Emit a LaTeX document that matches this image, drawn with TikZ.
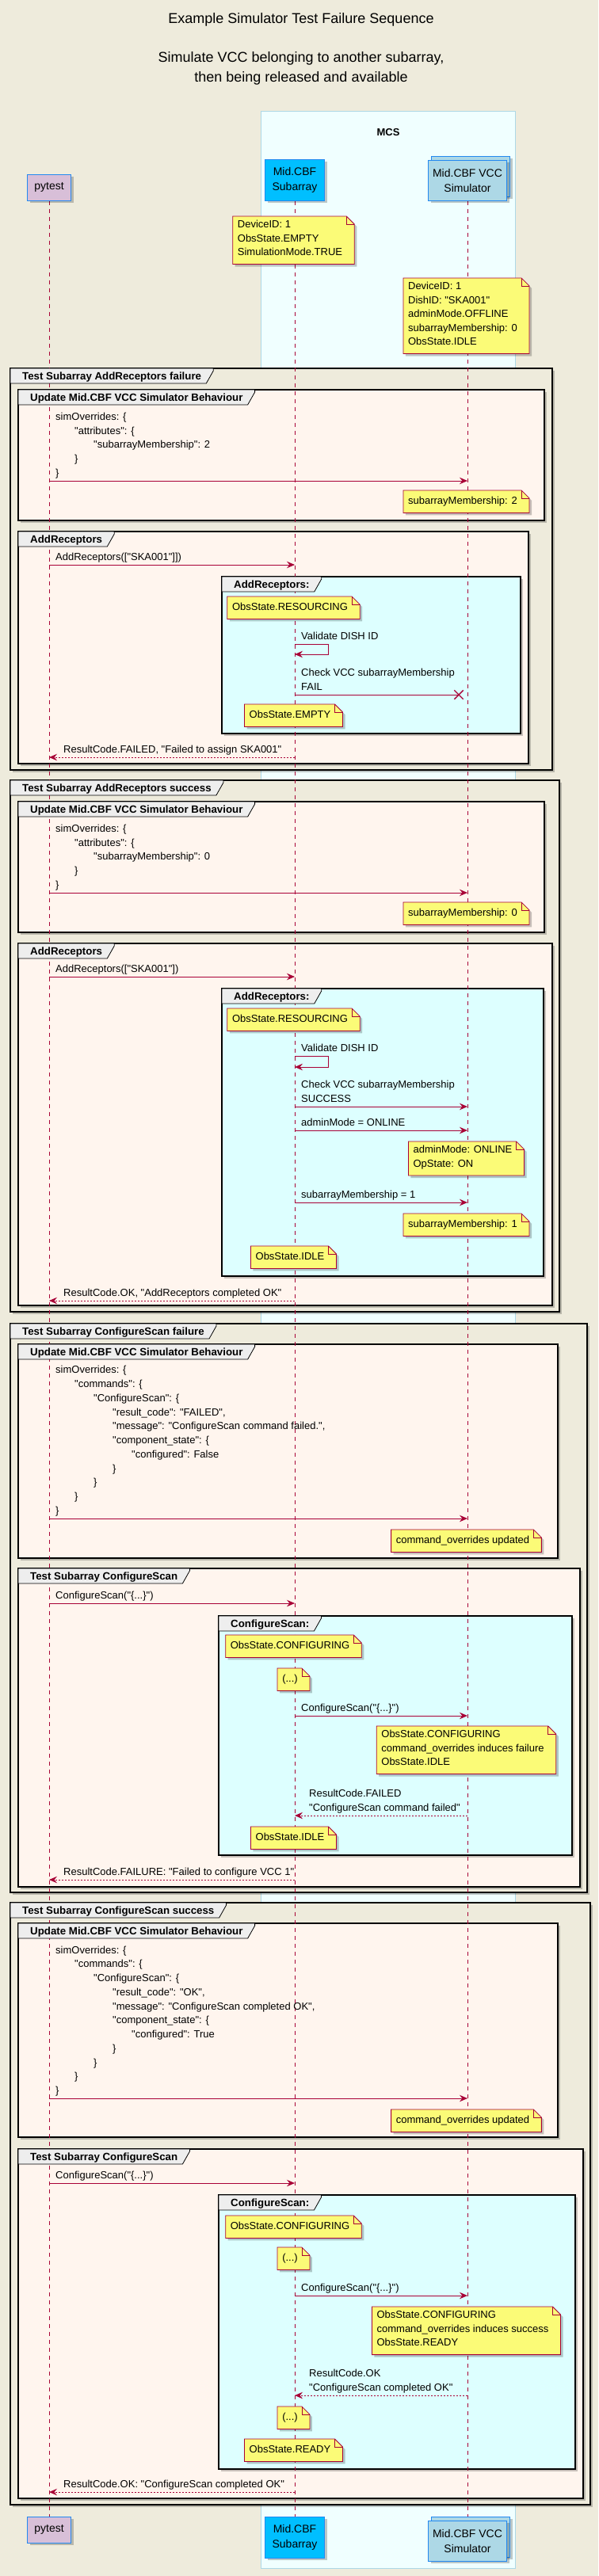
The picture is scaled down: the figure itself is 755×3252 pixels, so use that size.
\documentclass[tikz,border=0pt]{standalone}
\usepackage{fontspec}
\setmainfont{Liberation Sans}[Ligatures=TeXOff]
\usepackage{tikz}
\usetikzlibrary{arrows.meta,positioning,calc,backgrounds,shapes.misc,shadows}
\definecolor{umlbg}{HTML}{EEEBDC}
\definecolor{umlred}{HTML}{A80036}
\definecolor{notefill}{HTML}{FBFB77}
\definecolor{mcsfill}{HTML}{F0FFFF}
\definecolor{mcsline}{HTML}{ADD8E6}
\definecolor{grpfill}{HTML}{FFF5EE}
\definecolor{cmdfill}{HTML}{DDFFFF}
\definecolor{tabfill}{HTML}{EEEEEE}
\definecolor{subfill}{HTML}{00BFFF}
\definecolor{simfill}{HTML}{ADD8E6}
\definecolor{pyfill}{HTML}{D8BFD8}
\definecolor{partline}{HTML}{2389F0}
\newcommand\xP{62}
\newcommand\xS{372}
\newcommand\xV{590}
\tikzset{
  >={Stealth[length=10pt,width=8.5pt,inset=3.5pt]},
  umlshadow/.style={drop shadow={shadow xshift=3pt,shadow yshift=-3pt,fill=black,opacity=.22}},
  % participants
  part/.style={draw=partline,line width=1pt,align=center,inner sep=0pt,
               font=\fontsize{14}{19}\selectfont,umlshadow},
  pyp/.style={part,fill=pyfill,minimum width=55pt,minimum height=33pt},
  subp/.style={part,fill=subfill,minimum width=75pt,minimum height=52pt},
  simp/.style={part,fill=simfill,minimum width=99pt,minimum height=51pt},
  mcsbox/.style={draw=mcsline,line width=0.8pt,fill=mcsfill},
  lifeline/.style={draw=umlred,line width=0.8pt,dash pattern=on 5pt off 5pt},
  % groups
  grp/.style={draw=black,line width=2pt,umlshadow},
  grptitle/.style={anchor=base west,inner sep=0pt,font=\bfseries\fontsize{13.3}{16}\selectfont},
  tabshape/.style={draw=black,line width=0.8pt,fill=tabfill},
  % notes
  note/.style={anchor=north,align=left,inner xsep=6pt,inner ysep=5.25pt,
               font=\fontsize{13}{17.5}\selectfont,
               execute at begin node=\strut,execute at end node=\strut},
  noteshape/.style={draw=umlred,line width=0.8pt,fill=notefill,umlshadow},
  notefold/.style={draw=umlred,line width=0.8pt},
  % messages
  msg/.style={->,draw=umlred,line width=0.9pt},
  ret/.style={msg,dash pattern=on 2pt off 2pt},
  msgtxt/.style={align=left,inner sep=0pt,font=\fontsize{13}{17.75}\selectfont,
                 execute at begin node=\strut,execute at end node=\strut},
  lost/.style={cross out,draw=umlred,line width=1.4pt,minimum size=10pt,inner sep=0pt},
}

\begin{document}
\begin{tikzpicture}[x=1pt,y=-1pt]
\useasboundingbox (0,0) rectangle (755,3252);

\node[align=center,inner sep=0pt,font=\fontsize{18}{24.5}\selectfont] (title) at (380,61.6)
  {Example Simulator Test Failure Sequence\\[24.5pt]Simulate VCC belonging to another subarray,\\then being released and available};
\node[font=\bfseries\fontsize{13}{16}\selectfont] (mcs) at (490,167) {MCS};

% participants
\node[pyp] (pyT) at (\xP,236.5) {pytest};
\node[subp] (subT) at (\xS,227) {Mid.CBF\\Subarray};
\node[simp] (vccTs) at (\xV+4,222.5) {};
\node[simp] (vccT) at (\xV,227.5) {Mid.CBF VCC\\Simulator};
\node[pyp] (pyB) at (\xP,3193.5) {pytest};
\node[subp] (subB) at (\xS,3203) {Mid.CBF\\Subarray};
\node[simp] (vccBs) at (\xV+4,3202.5) {};
\node[simp] (vccB) at (\xV,3207.5) {Mid.CBF VCC\\Simulator};

% group corners and titles
\coordinate (c1) at (13,465);    \node[grptitle] (g1) at ([xshift=15pt,yshift=-14.7pt]c1) {Test Subarray AddReceptors failure};
\coordinate (c2) at (23,492);    \node[grptitle] (g2) at ([xshift=15pt,yshift=-14.7pt]c2) {Update Mid.CBF VCC Simulator Behaviour};
\coordinate (c3) at (23,671);    \node[grptitle] (g3) at ([xshift=15pt,yshift=-14.7pt]c3) {AddReceptors};
\coordinate (c4) at (280,728);   \node[grptitle] (g4) at ([xshift=15pt,yshift=-14.7pt]c4) {AddReceptors:};
\coordinate (c5) at (13,985);    \node[grptitle] (g5) at ([xshift=15pt,yshift=-14.7pt]c5) {Test Subarray AddReceptors success};
\coordinate (c6) at (23,1012);   \node[grptitle] (g6) at ([xshift=15pt,yshift=-14.7pt]c6) {Update Mid.CBF VCC Simulator Behaviour};
\coordinate (c7) at (23,1191);   \node[grptitle] (g7) at ([xshift=15pt,yshift=-14.7pt]c7) {AddReceptors};
\coordinate (c8) at (280,1248);  \node[grptitle] (g8) at ([xshift=15pt,yshift=-14.7pt]c8) {AddReceptors:};
\coordinate (c9) at (13,1671);   \node[grptitle] (g9) at ([xshift=15pt,yshift=-14.7pt]c9) {Test Subarray ConfigureScan failure};
\coordinate (c10) at (23,1697);  \node[grptitle] (g10) at ([xshift=15pt,yshift=-14.7pt]c10) {Update Mid.CBF VCC Simulator Behaviour};
\coordinate (c11) at (23,1980);  \node[grptitle] (g11) at ([xshift=15pt,yshift=-14.7pt]c11) {Test Subarray ConfigureScan};
\coordinate (c12) at (276,2040); \node[grptitle] (g12) at ([xshift=15pt,yshift=-14.7pt]c12) {ConfigureScan:};
\coordinate (c13) at (13,2402);  \node[grptitle] (g13) at ([xshift=15pt,yshift=-14.7pt]c13) {Test Subarray ConfigureScan success};
\coordinate (c14) at (23,2428);  \node[grptitle] (g14) at ([xshift=15pt,yshift=-14.7pt]c14) {Update Mid.CBF VCC Simulator Behaviour};
\coordinate (c15) at (23,2713);  \node[grptitle] (g15) at ([xshift=15pt,yshift=-14.7pt]c15) {Test Subarray ConfigureScan};
\coordinate (c16) at (276,2771); \node[grptitle] (g16) at ([xshift=15pt,yshift=-14.7pt]c16) {ConfigureScan:};

% notes
\node[note] (n1) at (366,273) {DeviceID: 1\\ObsState.EMPTY\\SimulationMode.TRUE};
\node[note] (n2) at (584,351) {DeviceID: 1\\DishID: "SKA001"\\adminMode.OFFLINE\\subarrayMembership: 0\\ObsState.IDLE};
\node[note] (n3) at (584,619) {subarrayMembership: 2};
\node[note] (n4) at (366,753) {ObsState.RESOURCING};
\node[note] (n5) at (366,889) {ObsState.EMPTY};
\node[note] (n6) at (584,1139) {subarrayMembership: 0};
\node[note] (n7) at (366,1273) {ObsState.RESOURCING};
\node[note] (n8) at (584,1441) {adminMode: ONLINE\\OpState: ON};
\node[note] (n9) at (584,1532) {subarrayMembership: 1};
\node[note] (n10) at (366,1573) {ObsState.IDLE};
\node[note] (n11) at (584,1931) {command\_overrides updated};
\node[note] (n12) at (366,2064) {ObsState.CONFIGURING};
\node[note] (n13) at (366,2106) {(...)};
\node[note] (n14) at (584,2179) {ObsState.CONFIGURING\\command\_overrides induces failure\\ObsState.IDLE};
\node[note] (n15) at (366,2306) {ObsState.IDLE};
\node[note] (n16) at (584,2663) {command\_overrides updated};
\node[note] (n17) at (366,2797) {ObsState.CONFIGURING};
\node[note] (n18) at (366,2837) {(...)};
\node[note] (n19) at (584,2912) {ObsState.CONFIGURING\\command\_overrides induces success\\ObsState.READY};
\node[note] (n20) at (366,3038) {(...)};
\node[note] (n21) at (366,3079) {ObsState.READY};

\begin{scope}[on background layer]
  \fill[umlbg] (0,0) rectangle (755,3252);
  \draw[mcsbox] (329,140) rectangle (650,3242);
  \foreach \i/\xr/\yb/\col in {1/697/972/umlbg,2/687/657/grpfill,3/667/964/grpfill,4/657/926/cmdfill,
      5/706/1656/umlbg,6/687/1177/grpfill,7/697/1648/grpfill,8/686/1611/cmdfill,
      9/741/2389/umlbg,10/704/1967/grpfill,11/732/2382/grpfill,12/722/2342/cmdfill,
      13/745/3162/umlbg,14/704/2698/grpfill,15/736/3154/grpfill,16/726/3117/cmdfill}
    \draw[grp,fill=\col] (c\i) rectangle (\xr,\yb);
  \draw[lifeline] (pyT) -- (pyB);
  \draw[lifeline] (subT) -- (subB);
  \draw[lifeline] (vccT) -- (vccB);
  \foreach \i in {1,...,16}
    \draw[tabshape] (c\i) -- ([xshift=15pt]c\i -| g\i.east) -- ([xshift=15pt,yshift=-3pt]c\i -| g\i.east)
      -- ([xshift=6pt,yshift=-19pt]c\i -| g\i.east) -- ([yshift=-19pt]c\i) -- cycle;
  \foreach \i in {1,...,21} {
    \draw[noteshape] (n\i.south west) -- (n\i.north west) -- ([xshift=-1pt]n\i.north east)
      -- ([xshift=9pt,yshift=-10pt]n\i.north east) -- ([xshift=9pt]n\i.south east) -- cycle;
    \draw[notefold] ([xshift=-1pt]n\i.north east) |- ([xshift=9pt,yshift=-10pt]n\i.north east);
  }
\end{scope}

% AddReceptors failure
\coordinate (m1a) at (\xP,607); \coordinate (m1b) at (\xV,607);
\draw[msg] (m1a) -- (m1b);
\node[msgtxt,above right=0pt and 8pt of m1a] (t1) {simOverrides: \{\\
  \hspace*{24pt}"attributes": \{\\
  \hspace*{48pt}"subarrayMembership": 2\\
  \hspace*{24pt}\}\\
  \}};
\coordinate (m2a) at (\xP,713); \coordinate (m2b) at (\xS,713);
\draw[msg] (m2a) -- (m2b);
\node[msgtxt,above right=0pt and 8pt of m2a] (t2) {AddReceptors(["SKA001"]])};
\coordinate (m3a) at (\xS,813); \coordinate (m3b) at (\xS,826);
\draw[msg] (m3a) -- ++(42,0) |- (m3b);
\node[msgtxt,above right=0pt and 8pt of m3a] (t3) {Validate DISH ID};
\coordinate (m4a) at (\xS,877); \node[lost] (x4) at (579,877) {};
\draw[msg,-] (m4a) -- (x4.center);
\node[msgtxt,above right=0pt and 8pt of m4a] (t4) {Check VCC subarrayMembership\\FAIL};
\coordinate (m5a) at (\xS,956); \coordinate (m5b) at (\xP,956);
\draw[ret] (m5a) -- (m5b);
\node[msgtxt,above right=0pt and 18pt of m5b] (t5) {ResultCode.FAILED, "Failed to assign SKA001"};

% AddReceptors success
\coordinate (m6a) at (\xP,1127); \coordinate (m6b) at (\xV,1127);
\draw[msg] (m6a) -- (m6b);
\node[msgtxt,above right=0pt and 8pt of m6a] (t6) {simOverrides: \{\\
  \hspace*{24pt}"attributes": \{\\
  \hspace*{48pt}"subarrayMembership": 0\\
  \hspace*{24pt}\}\\
  \}};
\coordinate (m7a) at (\xP,1233); \coordinate (m7b) at (\xS,1233);
\draw[msg] (m7a) -- (m7b);
\node[msgtxt,above right=0pt and 8pt of m7a] (t7) {AddReceptors(["SKA001"])};
\coordinate (m8a) at (\xS,1333); \coordinate (m8b) at (\xS,1347);
\draw[msg] (m8a) -- ++(42,0) |- (m8b);
\node[msgtxt,above right=0pt and 8pt of m8a] (t8) {Validate DISH ID};
\coordinate (m9a) at (\xS,1397); \coordinate (m9b) at (\xV,1397);
\draw[msg] (m9a) -- (m9b);
\node[msgtxt,above right=0pt and 8pt of m9a] (t9) {Check VCC subarrayMembership\\SUCCESS};
\coordinate (m10a) at (\xS,1427); \coordinate (m10b) at (\xV,1427);
\draw[msg] (m10a) -- (m10b);
\node[msgtxt,above right=0pt and 8pt of m10a] (t10) {adminMode = ONLINE};
\coordinate (m11a) at (\xS,1518); \coordinate (m11b) at (\xV,1518);
\draw[msg] (m11a) -- (m11b);
\node[msgtxt,above right=0pt and 8pt of m11a] (t11) {subarrayMembership = 1};
\coordinate (m12a) at (\xS,1642); \coordinate (m12b) at (\xP,1642);
\draw[ret] (m12a) -- (m12b);
\node[msgtxt,above right=0pt and 18pt of m12b] (t12) {ResultCode.OK, "AddReceptors completed OK"};

% ConfigureScan failure
\coordinate (m13a) at (\xP,1917); \coordinate (m13b) at (\xV,1917);
\draw[msg] (m13a) -- (m13b);
\node[msgtxt,above right=0pt and 8pt of m13a] (t13) {simOverrides: \{\\
  \hspace*{24pt}"commands": \{\\
  \hspace*{48pt}"ConfigureScan": \{\\
  \hspace*{72pt}"result\_code": "FAILED",\\
  \hspace*{72pt}"message": "ConfigureScan command failed.",\\
  \hspace*{72pt}"component\_state": \{\\
  \hspace*{96pt}"configured": False\\
  \hspace*{72pt}\}\\
  \hspace*{48pt}\}\\
  \hspace*{24pt}\}\\
  \}};
\coordinate (m14a) at (\xP,2024); \coordinate (m14b) at (\xS,2024);
\draw[msg] (m14a) -- (m14b);
\node[msgtxt,above right=0pt and 8pt of m14a] (t14) {ConfigureScan("\{...\}")};
\coordinate (m15a) at (\xS,2166); \coordinate (m15b) at (\xV,2166);
\draw[msg] (m15a) -- (m15b);
\node[msgtxt,above right=0pt and 8pt of m15a] (t15) {ConfigureScan("\{...\}")};
\coordinate (m16a) at (\xV,2292); \coordinate (m16b) at (\xS,2292);
\draw[ret] (m16a) -- (m16b);
\node[msgtxt,above right=0pt and 18pt of m16b] (t16) {ResultCode.FAILED\\"ConfigureScan command failed"};
\coordinate (m17a) at (\xS,2373); \coordinate (m17b) at (\xP,2373);
\draw[ret] (m17a) -- (m17b);
\node[msgtxt,above right=0pt and 18pt of m17b] (t17) {ResultCode.FAILURE: "Failed to configure VCC 1"};

% ConfigureScan success
\coordinate (m18a) at (\xP,2649); \coordinate (m18b) at (\xV,2649);
\draw[msg] (m18a) -- (m18b);
\node[msgtxt,above right=0pt and 8pt of m18a] (t18) {simOverrides: \{\\
  \hspace*{24pt}"commands": \{\\
  \hspace*{48pt}"ConfigureScan": \{\\
  \hspace*{72pt}"result\_code": "OK",\\
  \hspace*{72pt}"message": "ConfigureScan completed OK",\\
  \hspace*{72pt}"component\_state": \{\\
  \hspace*{96pt}"configured": True\\
  \hspace*{72pt}\}\\
  \hspace*{48pt}\}\\
  \hspace*{24pt}\}\\
  \}};
\coordinate (m19a) at (\xP,2756); \coordinate (m19b) at (\xS,2756);
\draw[msg] (m19a) -- (m19b);
\node[msgtxt,above right=0pt and 8pt of m19a] (t19) {ConfigureScan("\{...\}")};
\coordinate (m20a) at (\xS,2898); \coordinate (m20b) at (\xV,2898);
\draw[msg] (m20a) -- (m20b);
\node[msgtxt,above right=0pt and 8pt of m20a] (t20) {ConfigureScan("\{...\}")};
\coordinate (m21a) at (\xV,3024); \coordinate (m21b) at (\xS,3024);
\draw[ret] (m21a) -- (m21b);
\node[msgtxt,above right=0pt and 18pt of m21b] (t21) {ResultCode.OK\\"ConfigureScan completed OK"};
\coordinate (m22a) at (\xS,3146); \coordinate (m22b) at (\xP,3146);
\draw[ret] (m22a) -- (m22b);
\node[msgtxt,above right=0pt and 18pt of m22b] (t22) {ResultCode.OK: "ConfigureScan completed OK"};
\end{tikzpicture}
\end{document}
